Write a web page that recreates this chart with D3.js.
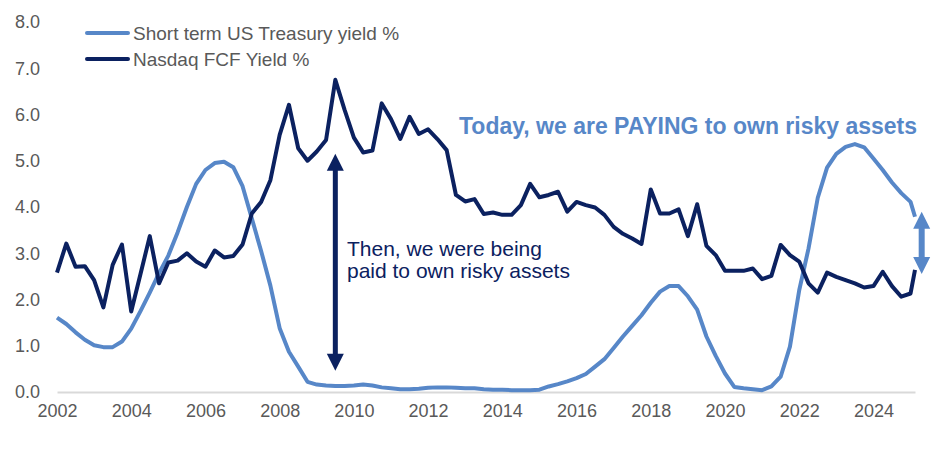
<!DOCTYPE html>
<html>
<head>
<meta charset="utf-8">
<script src="https://cdn.jsdelivr.net/npm/d3@7"></script>
<style>
  body { margin: 0; background: #fff; }
  svg { font-family: "Liberation Sans", Arial, sans-serif; }
</style>
</head>
<body>
<svg id="chart" width="938" height="450"></svg>
<script>
// quarterly points from Q1 2002, last point early 2025
const quarters = d3.range(2002, 2025.01, 0.25).concat([2025.12]);

const treasuryYield = [
  1.61, 1.47, 1.29, 1.13,
  1.01, 0.97, 0.97, 1.09,
  1.37, 1.75, 2.15, 2.57,
  2.95, 3.45, 4.0, 4.5,
  4.8, 4.95, 4.98, 4.86,
  4.45, 3.75, 3.05, 2.3,
  1.38, 0.87, 0.55, 0.22,
  0.16, 0.14, 0.13, 0.13,
  0.14, 0.16, 0.14, 0.1,
  0.08, 0.06, 0.06, 0.07,
  0.09, 0.1, 0.1, 0.09,
  0.08, 0.08, 0.06, 0.05,
  0.05, 0.04, 0.04, 0.04,
  0.05, 0.12, 0.17, 0.23,
  0.3, 0.39, 0.55, 0.71,
  0.95, 1.2, 1.43, 1.66,
  1.93, 2.17, 2.29, 2.29,
  2.07, 1.78, 1.2, 0.78,
  0.4, 0.11, 0.08, 0.06,
  0.04, 0.12, 0.33, 0.98,
  2.2, 3.1, 4.2, 4.85,
  5.15, 5.3, 5.36, 5.29,
  5.05, 4.8, 4.53, 4.3,
  4.11, 3.79
];

const nasdaqFcfYield = [
  2.58, 3.21, 2.71, 2.72,
  2.42, 1.83, 2.75, 3.19,
  1.74, 2.55, 3.37, 2.35,
  2.8, 2.84, 3.0, 2.82,
  2.71, 3.06, 2.91, 2.94,
  3.19, 3.86, 4.11, 4.58,
  5.56, 6.21, 5.27, 5.0,
  5.2, 5.45, 6.75, 6.1,
  5.5, 5.18, 5.22, 6.24,
  5.9, 5.47, 5.95, 5.58,
  5.68, 5.47, 5.23, 4.26,
  4.12, 4.17, 3.85, 3.88,
  3.83, 3.83, 4.04, 4.5,
  4.21, 4.26, 4.33, 3.9,
  4.11, 4.04, 3.99, 3.83,
  3.57, 3.42, 3.32, 3.2,
  4.38, 3.86, 3.86, 3.95,
  3.37, 4.06, 3.16, 2.96,
  2.62, 2.62, 2.62, 2.67,
  2.44, 2.51, 3.18, 2.96,
  2.82, 2.35, 2.15, 2.58,
  2.49, 2.42, 2.35, 2.26,
  2.29, 2.6, 2.29, 2.06,
  2.13, 2.64
];

const yTicks = [0, 1, 2, 3, 4, 5, 6, 7, 8];
const xTicks = [2002, 2004, 2006, 2008, 2010, 2012, 2014, 2016, 2018, 2020, 2022, 2024];

const seriesNames = ["Short term US Treasury yield %", "Nasdaq FCF Yield %"];
const seriesColors = ["#5787c8", "#0b2160"];

const svg = d3.select("#chart");
const margin = { top: 22, right: 23, bottom: 58, left: 57 };
const width = 938, height = 450;

const x = d3.scaleLinear()
  .domain([2002, 2025.12])
  .range([margin.left, width - margin.right]);

const y = d3.scaleLinear()
  .domain([0, 8])
  .range([height - margin.bottom, margin.top]);

// y axis labels (no axis line)
const yAxis = svg.append("g")
  .attr("transform", `translate(${margin.left}, 0)`)
  .call(d3.axisLeft(y).tickValues(yTicks).tickFormat(d3.format(".1f")).tickSize(0).tickPadding(17));
yAxis.select(".domain").remove();
yAxis.selectAll("text").attr("font-size", 18).attr("fill", "#595959").attr("font-family", "Liberation Sans, Arial, sans-serif");

// x axis
const xAxis = svg.append("g")
  .attr("transform", `translate(0, ${y(0)})`)
  .call(d3.axisBottom(x).tickValues(xTicks).tickFormat(d3.format("d")).tickSize(0).tickPadding(12));
xAxis.select(".domain").attr("stroke", "#d9d9d9").attr("stroke-width", 2);
xAxis.selectAll("text").attr("font-size", 18).attr("fill", "#595959").attr("font-family", "Liberation Sans, Arial, sans-serif");

const line = d3.line()
  .x((d, i) => x(quarters[i]))
  .y(d => y(d));

svg.append("path")
  .datum(treasuryYield)
  .attr("fill", "none")
  .attr("stroke", seriesColors[0])
  .attr("stroke-width", 4)
  .attr("stroke-linejoin", "round")
  .attr("d", line);

svg.append("path")
  .datum(nasdaqFcfYield)
  .attr("fill", "none")
  .attr("stroke", seriesColors[1])
  .attr("stroke-width", 4)
  .attr("stroke-linejoin", "round")
  .attr("d", line);

// legend
const legend = svg.append("g");
seriesNames.forEach((name, i) => {
  const ly = 33 + i * 26;
  legend.append("line")
    .attr("x1", 87).attr("x2", 128)
    .attr("y1", ly).attr("y2", ly)
    .attr("stroke", seriesColors[i])
    .attr("stroke-width", 4)
    .attr("stroke-linecap", "round");
  legend.append("text")
    .attr("x", 133).attr("y", ly)
    .attr("dy", "0.36em")
    .attr("font-size", 19)
    .attr("fill", "#595959")
    .text(name);
});

// double-headed arrows
function arrow(xv, yTop, yBottom, color, shaft, headW, headH) {
  const cx = x(xv), t = y(yTop), b = y(yBottom);
  const g = svg.append("g");
  g.append("line")
    .attr("x1", cx).attr("x2", cx)
    .attr("y1", t + headH - 1).attr("y2", b - headH + 1)
    .attr("stroke", color).attr("stroke-width", shaft);
  g.append("path")
    .attr("d", `M${cx},${t} L${cx - headW / 2},${t + headH} L${cx + headW / 2},${t + headH} Z`)
    .attr("fill", color);
  g.append("path")
    .attr("d", `M${cx},${b} L${cx - headW / 2},${b - headH} L${cx + headW / 2},${b - headH} Z`)
    .attr("fill", color);
}

arrow(2009.5, 5.15, 0.46, seriesColors[1], 5, 17, 17);
arrow(2025.3, 3.9, 2.55, seriesColors[0], 6, 17, 17);

// annotations
svg.append("text")
  .attr("x", 459).attr("y", 134)
  .attr("font-size", 23)
  .attr("font-weight", "bold")
  .attr("fill", seriesColors[0])
  .text("Today, we are PAYING to own risky assets");

const note = svg.append("text")
  .attr("font-size", 21)
  .attr("fill", seriesColors[1]);
note.append("tspan").attr("x", 347).attr("y", 256).text("Then, we were being");
note.append("tspan").attr("x", 347).attr("y", 278).text("paid to own risky assets");
</script>
</body>
</html>
